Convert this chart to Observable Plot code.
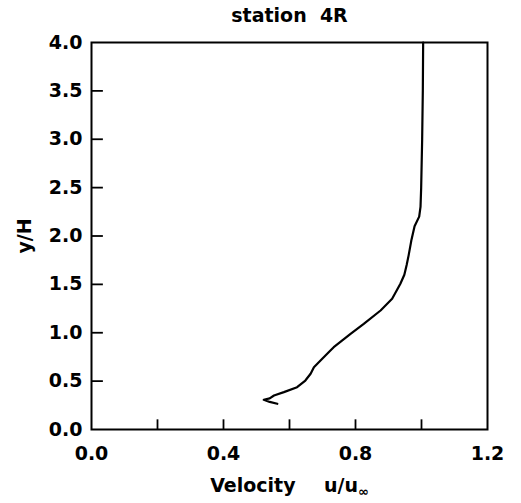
<!DOCTYPE html>
<html>
<head>
<meta charset="utf-8">
<script src="https://cdn.jsdelivr.net/npm/d3@7"></script>
<script src="https://cdn.jsdelivr.net/npm/@observablehq/plot@0.6"></script>
<style>
  body { margin: 0; background: #fff; }
  svg { font-family: "DejaVu Sans", sans-serif; }
</style>
</head>
<body>
<div id="chart"></div>
<script>
const title = "station  4R";
const xLabel = "Velocity";
const yLabel = "y/H";
const xTicks = [0.2, 0.4, 0.6, 0.8, 1.0];
const xTickLabels = [0, 0.4, 0.8, 1.2];
const yTicks = [0.5, 1.0, 1.5, 2.0, 2.5, 3.0, 3.5];
const yTickLabels = [0, 0.5, 1.0, 1.5, 2.0, 2.5, 3.0, 3.5, 4.0];
// velocity profile, ordered from the wall outward
const velocity = [0.563, 0.540, 0.522, 0.540, 0.553, 0.583, 0.623, 0.648, 0.664, 0.674, 0.694, 0.724, 0.734, 0.760, 0.785, 0.825, 0.876, 0.911, 0.936, 0.948, 0.955, 0.961, 0.969, 0.979, 0.993, 0.997, 0.999, 1.002, 1.004, 1.005];
const height = [0.266, 0.285, 0.307, 0.322, 0.351, 0.386, 0.437, 0.506, 0.576, 0.644, 0.713, 0.817, 0.851, 0.920, 0.989, 1.092, 1.230, 1.351, 1.506, 1.600, 1.700, 1.800, 1.950, 2.100, 2.200, 2.300, 2.500, 3.000, 3.500, 4.000];

const data = velocity.map((v, i) => ({v, y: height[i]}));

const chart = Plot.plot({
  width: 521,
  height: 503,
  marginLeft: 91,
  marginRight: 34,
  marginTop: 42,
  marginBottom: 74,
  style: {fontSize: "19px", fontWeight: "bold", color: "#000"},
  x: {domain: [0, 1.2]},
  y: {domain: [0, 4]},
  marks: [
    Plot.frame({stroke: "#000", strokeWidth: 2}),
    // inward ticks (length ~10-12 px)
    Plot.ruleX(xTicks, {x: d => d, y1: 0, y2: 0.1, stroke: "#000", strokeWidth: 1.8}),
    Plot.ruleY(yTicks, {y: d => d, x1: 0, x2: 0.036, stroke: "#000", strokeWidth: 1.8}),
    // labels
    Plot.axisX({ticks: xTickLabels, tickSize: 0, tickPadding: 17, tickFormat: d3.format(".1f"),
      label: xLabel, labelAnchor: "center", labelArrow: "none", labelOffset: 62}),
    Plot.axisY({ticks: yTickLabels, tickSize: 0, tickPadding: 9, tickFormat: d3.format(".1f"),
      label: yLabel, labelAnchor: "center", labelArrow: "none", labelOffset: 74}),
    Plot.line(data, {x: "v", y: "y", stroke: "#000", strokeWidth: 2.2, curve: "linear"}),
    Plot.text([title], {frameAnchor: "top", lineAnchor: "middle", dy: -27, fontSize: 19, fontWeight: "bold", fill: "#000"})
  ]
});

// add "u/u∞" with subscript to the x label
d3.select(chart).selectAll("text").each(function() {
  const t = d3.select(this);
  if (t.text() === xLabel) {
    t.text(null);
    t.append("tspan").text(xLabel + "\u2003\u2002u/u");
    t.append("tspan").attr("dy", "0.35em").attr("font-size", "13px").text("\u221e");
  }
});

document.getElementById("chart").appendChild(chart);
</script>
</body>
</html>
